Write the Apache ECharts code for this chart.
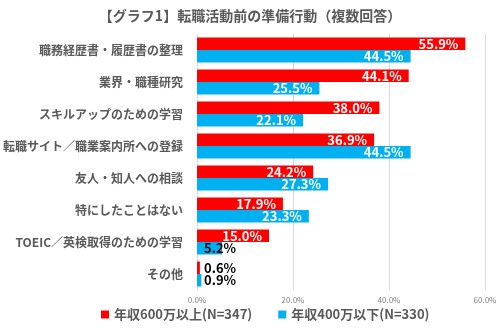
<!DOCTYPE html>
<html><head><meta charset="utf-8">
<script src="https://cdn.jsdelivr.net/npm/echarts@6/dist/echarts.min.js"></script>
<style>html,body{margin:0;padding:0;background:#fff}#c{width:500px;height:328px}</style>
</head><body><div id="c"></div>
<script>
const categories = ['職務経歴書・履歴書の整理','業界・職種研究','スキルアップのための学習','転職サイト／職業案内所への登録','友人・知人への相談','特にしたことはない','TOEIC／英検取得のための学習','その他'];
const seriesNames = ['年収600万以上(N=347)','年収400万以下(N=330)'];
const high = [55.9, 44.1, 38.0, 36.9, 24.2, 17.9, 15.0, 0.6];
const low = [44.5, 25.5, 22.1, 44.5, 27.3, 23.3, 5.2, 0.9];
const xTicks = [0, 20, 40, 60];
const FONT = '"Noto Sans CJK JP", sans-serif';

function mkData(arr){
  return arr.map(v => v < 10 ? {value:v, label:{position:'insideLeft', distance:7, color:'#000'}} : v);
}
const chart = echarts.init(document.getElementById('c'));
chart.setOption({
  textStyle:{fontFamily:FONT},
  title:{text:'【グラフ1】転職活動前の準備行動（複数回答）', left:'center', top:4,
    textStyle:{fontFamily:FONT, fontSize:14, fontWeight:'bold', color:'#595959'}},
  legend:{bottom:2, left:96, itemWidth:8, itemHeight:8, itemGap:26, icon:'rect',
    textStyle:{fontFamily:FONT, fontSize:13, fontWeight:'bold', color:'#595959'}},
  grid:{left:196, right:15, top:34, bottom:38},
  xAxis:{type:'value', min:xTicks[0], max:xTicks[xTicks.length-1], interval:20,
    axisLabel:{formatter:v=>v.toFixed(1)+'%', fontSize:8, color:'#7f7f7f', margin:6},
    splitLine:{lineStyle:{color:'#d9d9d9'}}, axisLine:{show:false}, axisTick:{show:false}},
  yAxis:{type:'category', data:categories, inverse:true,
    axisLine:{show:false}, axisTick:{show:false},
    axisLabel:{fontSize:12, fontWeight:'bold', color:'#595959', margin:14}},
  series:[
    {name:seriesNames[0], type:'bar', data:mkData(high), itemStyle:{color:'#FF0000'},
     barGap:'0%', barCategoryGap:'22%',
     label:{show:true, position:'insideRight', distance:7, color:'#fff', fontWeight:'bold', fontSize:13,
       fontFamily:FONT, formatter:p=>p.value.toFixed(1)+'%'}},
    {name:seriesNames[1], type:'bar', data:mkData(low), itemStyle:{color:'#00B0F0'},
     barGap:'0%', barCategoryGap:'22%',
     label:{show:true, position:'insideRight', distance:7, color:'#fff', fontWeight:'bold', fontSize:13,
       fontFamily:FONT, formatter:p=>p.value.toFixed(1)+'%'}}
  ]
});
</script></body></html>
